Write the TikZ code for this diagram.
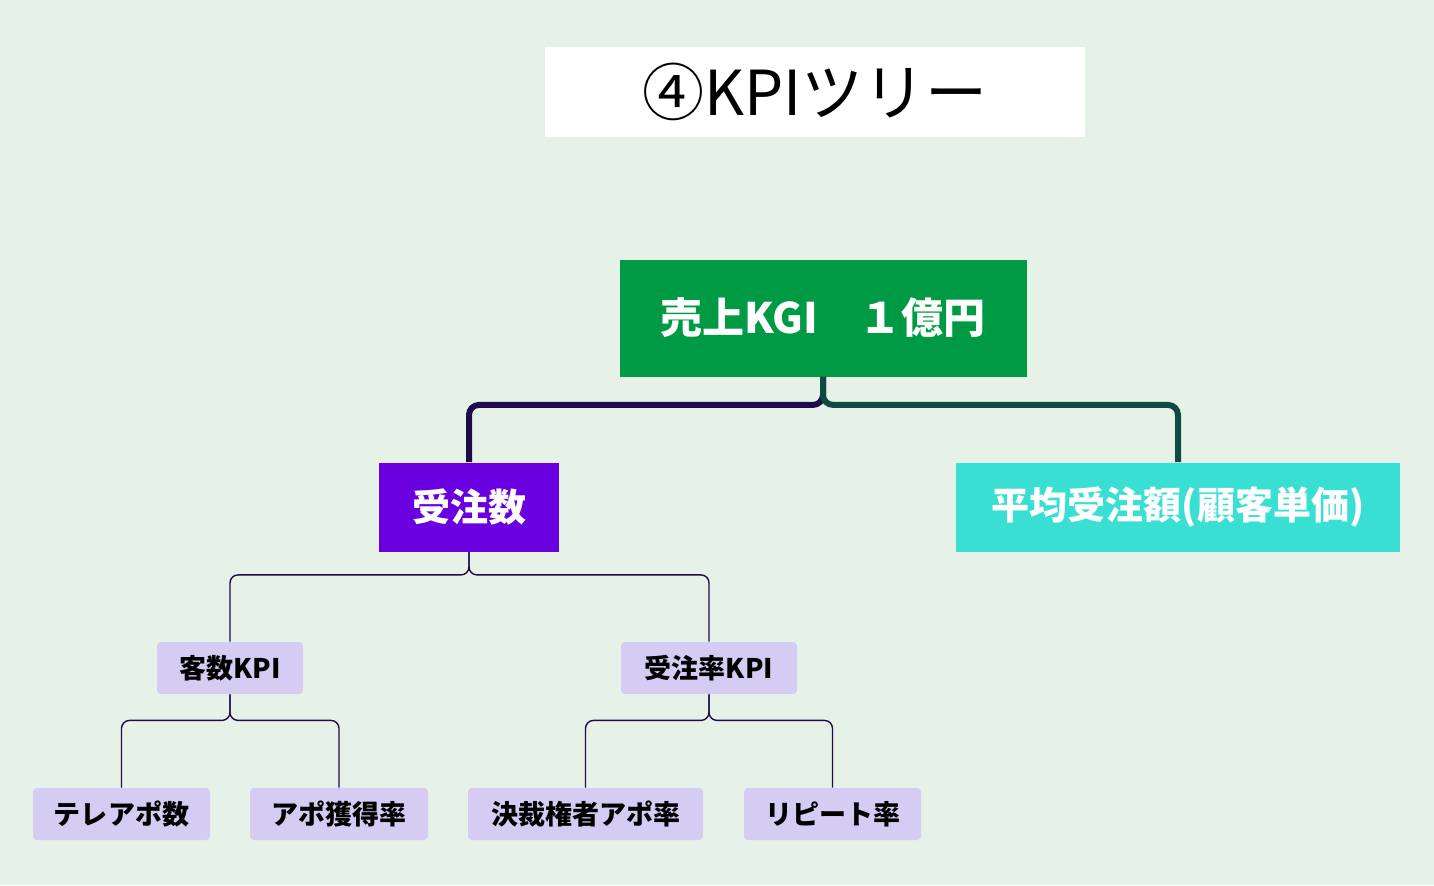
\documentclass[tikz,border=0pt]{standalone}
\usepackage{fontspec}
\setmainfont{Noto Sans CJK JP}
\newfontfamily\cjkbold{Noto Sans CJK JP}[BoldFont={* Bold}]
\usetikzlibrary{positioning}
\definecolor{bgmint}{HTML}{E6F1E7}
\definecolor{kgigreen}{HTML}{009A44}
\definecolor{ordpurple}{HTML}{6A00E0}
\definecolor{avgcyan}{HTML}{3ADFD4}
\definecolor{kpilav}{HTML}{D4CCF2}
\definecolor{linepurple}{HTML}{1F0A4A}
\definecolor{lineteal}{HTML}{0E4A40}
\tikzset{
  bigbox/.style={fill=#1, text=white, font=\fontsize{19}{22}\selectfont\bfseries, inner sep=0pt},
  kpibox/.style={fill=kpilav, text=black, rounded corners=2pt, font=\fontsize{13.5}{16}\selectfont\bfseries,
    minimum height=26pt, inner sep=0pt},
  thinlink/.style={draw=linepurple, line width=0.7pt, rounded corners=4pt},
  thicklink/.style={line width=3pt, rounded corners=5pt}
}
\begin{document}
\begin{tikzpicture}[x=0.5pt,y=-0.5pt]
	\fill[bgmint] (0,0) rectangle (1434,885);
	\useasboundingbox (0,0) rectangle (1434,885);

	% title
	\node[fill=white, minimum width=270pt, minimum height=45pt, font=\fontsize{31}{34}\selectfont] (title) at (815,92) {④KPIツリー};

	% upper levels
	\node[bigbox=kgigreen, minimum width=203.5pt, minimum height=58.5pt, font=\fontsize{21}{24}\selectfont\bfseries] (kgi) at (823,318) {売上KGI　１億円};
	\node[bigbox=ordpurple, minimum width=90pt, minimum height=44.5pt] (orders) at (469,507) {受注数};
	\node[bigbox=avgcyan, minimum width=222pt, minimum height=44.5pt] (avgprice) at (1178,507) {平均受注額(顧客単価)};

	% KPI level
	\node[kpibox, minimum width=73pt] (custkpi) at (230,668) {客数KPI};
	\node[kpibox, minimum width=88pt] (ratekpi) at (709,668) {受注率KPI};

	% bottom level
	\node[kpibox, minimum width=88.5pt] (tele) at (121.5,814) {テレアポ数};
	\node[kpibox, minimum width=89pt] (apo) at (339,814) {アポ獲得率};
	\node[kpibox, minimum width=117.5pt] (dm) at (585.5,814) {決裁権者アポ率};
	\node[kpibox, minimum width=88.5pt] (rep) at (832.5,814) {リピート率};

	% connectors
	\draw[thicklink, linepurple] (kgi.south) -- ++(0,28) -| (orders.north);
	\draw[thicklink, lineteal] (kgi.south) -- ++(0,28) -| (avgprice.north);
	\foreach \from/\to in {orders/custkpi, orders/ratekpi}
		\draw[thinlink] (\from.south) -- ++(0,23) -| (\to.north);
	\foreach \from/\to in {custkpi/tele, custkpi/apo, ratekpi/dm, ratekpi/rep}
		\draw[thinlink] (\from.south) -- ++(0,26) -| (\to.north);
\end{tikzpicture}
\end{document}
